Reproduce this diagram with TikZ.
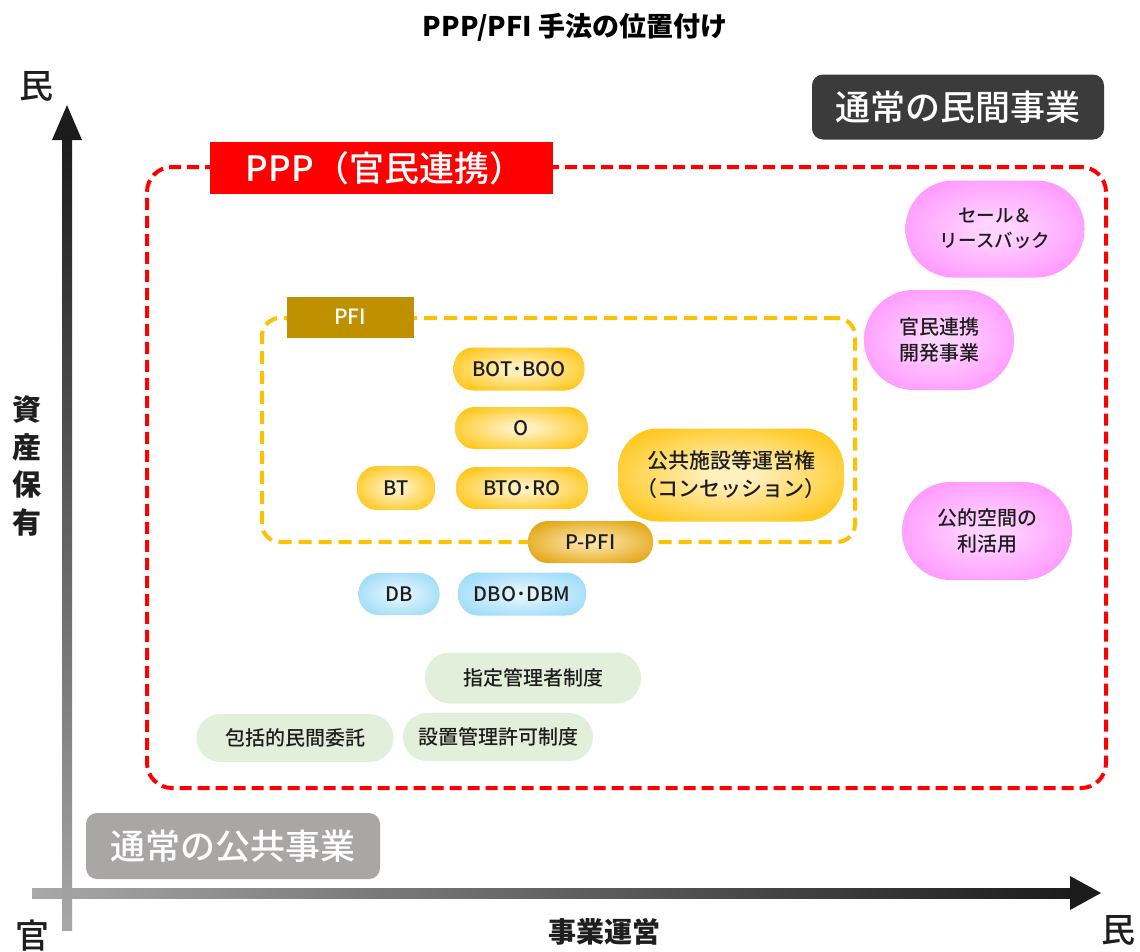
\documentclass[tikz,border=0pt]{standalone}
\usepackage{fontspec}
\setmainfont{Noto Sans CJK JP}
\newfontfamily\medfont{Noto Sans CJK JP Medium}
\definecolor{txt}{HTML}{1E1E1E}
\definecolor{pppred}{HTML}{FF0000}
\definecolor{pfigold}{HTML}{BF9000}
\definecolor{pfiline}{HTML}{FFC000}
\definecolor{darkbox}{HTML}{3B3B3B}
\definecolor{graybox}{HTML}{A9A6A6}
\definecolor{greenbox}{HTML}{E2EFDA}
\definecolor{axdark}{HTML}{1C1C1C}
\definecolor{axlight}{HTML}{A8A8A8}
\definecolor{yin}{HTML}{FFF0BE}
\definecolor{yout}{HTML}{FFC000}
\definecolor{pin}{HTML}{FFD3FF}
\definecolor{pout}{HTML}{FF8CFF}
\definecolor{bin}{HTML}{E0F4FD}
\definecolor{bout}{HTML}{92D8F6}
\definecolor{oin}{HTML}{FAE09E}
\definecolor{oout}{HTML}{E09E00}
\pgfdeclareradialshading{yellowsh}{\pgfpoint{0bp}{0bp}}{color(0bp)=(yin); color(5bp)=(yin); color(34bp)=(yout); color(50bp)=(yout)}
\pgfdeclareradialshading{pinksh}{\pgfpoint{0bp}{0bp}}{color(0bp)=(pin); color(5bp)=(pin); color(34bp)=(pout); color(50bp)=(pout)}
\pgfdeclareradialshading{bluesh}{\pgfpoint{0bp}{0bp}}{color(0bp)=(bin); color(5bp)=(bin); color(34bp)=(bout); color(50bp)=(bout)}
\pgfdeclareradialshading{orangesh}{\pgfpoint{0bp}{0bp}}{color(0bp)=(oin); color(5bp)=(oin); color(34bp)=(oout); color(50bp)=(oout)}
\tikzset{
  box/.style={inner sep=0pt, align=center, text=txt, font=\medfont\fontsize{20}{25}\selectfont},
  ybox/.style={box, shading=yellowsh},
  pbox/.style={box, shading=pinksh},
  bbox/.style={box, shading=bluesh},
  obox/.style={box, shading=orangesh},
  gbox/.style={box, fill=greenbox},
  bigtag/.style={inner sep=0pt, text=white, font=\medfont\fontsize{35}{40}\selectfont},
  axlabel/.style={text=txt, font=\medfont\fontsize{34}{40}\selectfont},
}
\begin{document}
\begin{tikzpicture}[x=1pt,y=-1pt]
\useasboundingbox (0,0) rectangle (1140,951);
\fill[white] (0,0) rectangle (1140,951);

% title
\node[font=\bfseries\fontsize{27}{32}\selectfont, text=black] (title) at (575,27) {PPP/PFI 手法の位置付け};

% axes
\shade[left color=axlight, right color=axdark] (32,888) rectangle (1072,898);
\fill[axdark] (1070,876) -- (1101,893) -- (1070,910) -- cycle;
\shade[top color=axdark, bottom color=axlight] (62,138) rectangle (72,930);
\fill[axdark] (52,140) -- (67,105) -- (82,140) -- cycle;

\node[axlabel] (minY) at (36,86) {民};
\node[axlabel] (kan) at (33,936) {官};
\node[axlabel] (minX) at (1118,930) {民};
\node[font=\bfseries\fontsize{28}{34}\selectfont, text=txt] (jigyo) at (604,932) {事業運営};
\node[font=\bfseries\fontsize{29}{37.7}\selectfont, text=txt, align=center] (shisan) at (27,466) {資\\産\\保\\有};

% private / public business tags
\node[bigtag, fill=darkbox, rounded corners=11pt, minimum width=292pt, minimum height=65pt] (minkan) at (958,107) {通常の民間事業};
\node[bigtag, fill=graybox, rounded corners=11pt, minimum width=294pt, minimum height=66pt] (kokyo) at (233,846) {通常の公共事業};

% PPP frame
\node[draw=pppred, line width=4pt, dash pattern=on 12pt off 6pt, rounded corners=25pt, inner sep=0pt, minimum width=959pt, minimum height=621pt] (ppp) at (626.5,477.5) {};
\node[bigtag, fill=pppred, minimum width=343pt, minimum height=52pt] (ppplabel) at (381,168) {\hspace{8pt}PPP（官民連携）};

% PFI frame
\node[draw=pfiline, line width=4pt, dash pattern=on 13pt off 7pt, rounded corners=18pt, inner sep=0pt, minimum width=593pt, minimum height=224pt] (pfi) at (558.5,430) {};
\node[inner sep=0pt, fill=pfigold, text=white, font=\medfont\fontsize{21}{24}\selectfont, minimum width=127pt, minimum height=41pt] (pfilabel) at (350,317) {PFI};

% yellow nodes
\node[ybox, rounded corners=20pt, minimum width=131pt, minimum height=43pt] (bot) at (519,369) {BOT･BOO};
\node[ybox, rounded corners=20pt, minimum width=133pt, minimum height=42pt] (o) at (521.5,428) {O};
\node[ybox, rounded corners=20pt, minimum width=78pt, minimum height=44pt] (bt) at (396,488) {BT};
\node[ybox, rounded corners=20pt, minimum width=132pt, minimum height=42pt] (bto) at (522,488) {BTO･RO};
\node[ybox, rounded corners=40pt, minimum width=226pt, minimum height=93pt, font=\medfont\fontsize{21}{28}\selectfont] (conc) at (731,475) {公共施設等運営権\\（コンセッション）};
\node[obox, rounded corners=20pt, minimum width=125pt, minimum height=42pt] (ppfi) at (590.5,542) {P-PFI};

% blue nodes
\node[bbox, rounded corners=20pt, minimum width=81pt, minimum height=42pt] (db) at (399,594) {DB};
\node[bbox, rounded corners=20pt, minimum width=128pt, minimum height=43pt] (dbo) at (522,594) {DBO･DBM};

% pink nodes
\node[pbox, rounded corners=48pt, minimum width=179pt, minimum height=97pt, font=\medfont\fontsize{18.5}{25}\selectfont] (sale) at (995,229) {セール＆\\リースバック};
\node[pbox, rounded corners=50pt, minimum width=150pt, minimum height=100pt, font=\medfont\fontsize{20}{26}\selectfont] (kaihatsu) at (939,340) {官民連携\\開発事業};
\node[pbox, rounded corners=49pt, minimum width=170pt, minimum height=98pt, font=\medfont\fontsize{20}{26}\selectfont] (kukan) at (987,531) {公的空間の\\利活用};

% green nodes
\node[gbox, rounded corners=25pt, minimum width=216pt, minimum height=51pt] (shitei) at (533,678) {指定管理者制度};
\node[gbox, rounded corners=24pt, minimum width=197pt, minimum height=48pt] (hokatsu) at (295,738) {包括的民間委託};
\node[gbox, rounded corners=24pt, minimum width=190pt, minimum height=48pt] (secchi) at (498,737) {設置管理許可制度};
\end{tikzpicture}
\end{document}
